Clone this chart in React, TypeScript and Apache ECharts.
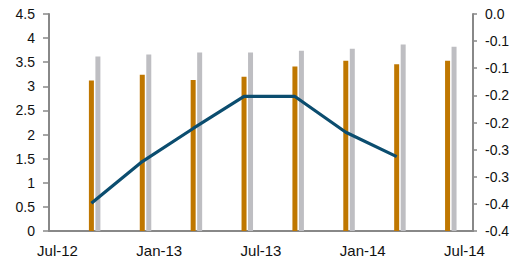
import React, { useEffect, useRef } from "react";
import * as echarts from "echarts";

const months = [
  "Jul-12", "Aug-12", "Sep-12", "Oct-12", "Nov-12", "Dec-12",
  "Jan-13", "Feb-13", "Mar-13", "Apr-13", "May-13", "Jun-13",
  "Jul-13", "Aug-13", "Sep-13", "Oct-13", "Nov-13", "Dec-13",
  "Jan-14", "Feb-14", "Mar-14", "Apr-14", "May-14", "Jun-14",
  "Jul-14",
];

const barMonths = ["Sep-12", "Dec-12", "Mar-13", "Jun-13", "Sep-13", "Dec-13", "Mar-14", "Jun-14"];
const orangeValues = [3.12, 3.24, 3.13, 3.2, 3.41, 3.53, 3.46, 3.53];
const grayValues = [3.62, 3.66, 3.7, 3.7, 3.74, 3.78, 3.87, 3.82];

const lineMonths = ["Sep-12", "Dec-12", "Mar-13", "Jun-13", "Sep-13", "Dec-13", "Mar-14"];
const lineValues = [-0.349, -0.272, -0.211, -0.152, -0.152, -0.218, -0.263];

const rightTickLabels = ["0.0", "-0.1", "-0.1", "-0.2", "-0.2", "-0.3", "-0.3", "-0.4", "-0.4"];

const FONT = "'Liberation Sans', Arial, sans-serif";
const AXIS_COLOR = "#888888";

export default function App() {
  const ref = useRef<HTMLDivElement>(null);

  useEffect(() => {
    if (!ref.current) return;
    const chart = echarts.init(ref.current, undefined, { renderer: "svg" });
    const toPairs = (ms: string[], vs: number[]) => ms.map((m, i) => [months.indexOf(m), vs[i]]);

    chart.setOption({
      animation: false,
      backgroundColor: "#ffffff",
      grid: { left: 49, right: 44, top: 14, bottom: 30, containLabel: false },
      xAxis: {
        type: "category",
        data: months,
        boundaryGap: true,
        axisLine: { show: true, lineStyle: { color: AXIS_COLOR, width: 2 } },
        axisTick: { show: false },
        axisLabel: { interval: 5, margin: 12, fontSize: 15, color: "#111", fontFamily: FONT },
        splitLine: { show: false },
      },
      yAxis: [
        {
          type: "value",
          min: 0,
          max: 4.5,
          interval: 0.5,
          position: "left",
          axisLine: { show: true, lineStyle: { color: AXIS_COLOR, width: 2 } },
          axisTick: { show: true, length: 6, lineStyle: { color: AXIS_COLOR, width: 1.5 } },
          axisLabel: { margin: 14, fontSize: 14, color: "#111", fontFamily: FONT },
          splitLine: { show: false },
        },
        {
          type: "value",
          min: -0.4,
          max: 0,
          interval: 0.05,
          position: "right",
          axisLine: { show: true, lineStyle: { color: AXIS_COLOR, width: 2 } },
          axisTick: { show: true, length: 4, lineStyle: { color: AXIS_COLOR, width: 1.5 } },
          axisLabel: {
            margin: 12,
            fontSize: 14,
            color: "#111",
            fontFamily: FONT,
            formatter: (v: number) => rightTickLabels[Math.round(-v / 0.05)] ?? "",
          },
          splitLine: { show: false },
        },
      ],
      series: [
        {
          type: "bar",
          name: "spacer",
          data: [],
          barWidth: 5,
          yAxisIndex: 0,
        },
        {
          type: "bar",
          name: "orange",
          data: toPairs(barMonths, orangeValues),
          barWidth: 5,
          yAxisIndex: 0,
          itemStyle: { color: "#BF7700" },
        },
        {
          type: "bar",
          name: "gray",
          data: toPairs(barMonths, grayValues),
          barWidth: 5,
          barGap: "30%",
          yAxisIndex: 0,
          itemStyle: { color: "#BEBEC2" },
        },
        {
          type: "line",
          name: "line",
          data: toPairs(lineMonths, lineValues),
          yAxisIndex: 1,
          showSymbol: false,
          symbol: "none",
          lineStyle: { color: "#0B4D6F", width: 3.2 },
          z: 5,
        },
      ],
    });
    return () => chart.dispose();
  }, []);

  return (
    <div
      ref={ref}
      style={{ position: "absolute", left: 0, top: 0, width: 517, height: 261, background: "#fff" }}
    />
  );
}
